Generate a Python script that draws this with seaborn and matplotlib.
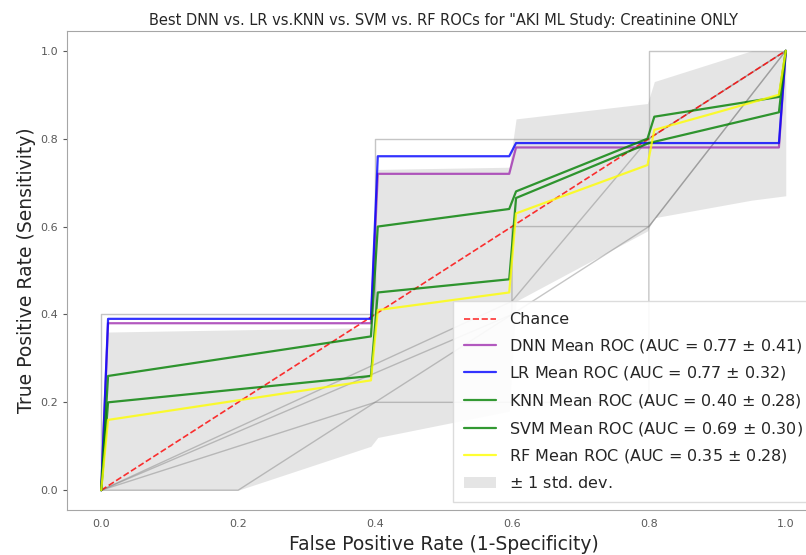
import numpy as np
import matplotlib
matplotlib.use("Agg")
import matplotlib.pyplot as plt
import seaborn as sns

# mean ROC curves (vertices)
dnn_fpr = [0, 0.01, 0.394, 0.404, 0.596, 0.606, 0.99, 1.0]
dnn_tpr = [0, 0.38, 0.38, 0.72, 0.72, 0.78, 0.78, 1.0]

lr_fpr = [0, 0.01, 0.394, 0.404, 0.596, 0.606, 0.99, 1.0]
lr_tpr = [0, 0.39, 0.39, 0.76, 0.76, 0.79, 0.79, 1.0]

knn_fpr = [0, 0.01, 0.394, 0.404, 0.596, 0.606, 0.798, 0.808, 0.99, 1.0]
knn_tpr = [0, 0.26, 0.35, 0.60, 0.64, 0.68, 0.80, 0.85, 0.895, 1.0]

svm_fpr = [0, 0.01, 0.394, 0.404, 0.596, 0.606, 0.8, 0.99, 1.0]
svm_tpr = [0, 0.20, 0.26, 0.45, 0.48, 0.665, 0.79, 0.86, 1.0]

rf_fpr = [0, 0.01, 0.394, 0.404, 0.596, 0.606, 0.798, 0.808, 0.9, 0.99, 1.0]
rf_tpr = [0, 0.16, 0.25, 0.41, 0.45, 0.63, 0.74, 0.82, 0.86, 0.90, 1.0]

# +/- 1 std band
std_fpr = [0, 0.01, 0.2, 0.394, 0.404, 0.596, 0.606, 0.798, 0.808, 0.95, 1.0]
std_upper = [0, 0.36, 0.365, 0.37, 0.73, 0.735, 0.845, 0.88, 0.93, 1.0, 1.0]
std_lower = [0, 0, 0, 0.10, 0.12, 0.18, 0.43, 0.59, 0.62, 0.66, 0.67]

# individual fold curves (thin grey)
folds = [
    ([0, 0, 0.4, 0.4, 0.6, 0.8, 0.8, 1.0], [0, 0.4, 0.4, 0.8, 0.8, 0.8, 1.0, 1.0]),
    ([0, 0.2, 0.8, 1.0], [0, 0, 0.6, 1.0]),
    ([0, 0.6, 0.6, 0.8, 1.0], [0, 0.4, 0.6, 0.6, 1.0]),
    ([0, 0.4, 0.8, 0.8, 1.0], [0, 0.2, 0.2, 0.8, 1.0]),
    ([0, 0.6, 0.8, 1.0], [0, 0.43, 0.8, 1.0]),
]

labels = ["DNN Mean ROC (AUC = 0.77 $\\pm$ 0.41)",
          "LR Mean ROC (AUC = 0.77 $\\pm$ 0.32)",
          "KNN Mean ROC (AUC = 0.40 $\\pm$ 0.28)",
          "SVM Mean ROC (AUC = 0.69 $\\pm$ 0.30)",
          "RF Mean ROC (AUC = 0.35 $\\pm$ 0.28)"]

sns.set_style("white", {"axes.edgecolor": ".65"})
plt.rcParams["font.family"] = ["DejaVu Sans"]
plt.rcParams["mathtext.fontset"] = "dejavusans"

fig = plt.figure(figsize=(8.06, 5.55), dpi=100)
ax = fig.add_axes([67 / 806, 45 / 555, 753 / 806, 479 / 555])

for fx, fy in folds:
    ax.plot(fx, fy, color="grey", lw=1, alpha=0.45)

sns.lineplot(x=[0, 1], y=[0, 1], ax=ax, color="r", lw=1.2, alpha=0.8,
             linestyle="--", label="Chance", sort=False, estimator=None)

curves = [(dnn_fpr, dnn_tpr, "#a030b0"), (lr_fpr, lr_tpr, "b"),
          (knn_fpr, knn_tpr, "g"), (svm_fpr, svm_tpr, "g"),
          (rf_fpr, rf_tpr, "yellow")]
for (fx, fy, c), lab in zip(curves, labels):
    sns.lineplot(x=fx, y=fy, ax=ax, color=c, lw=1.6, alpha=0.8,
                 label=lab, sort=False, estimator=None)

ax.fill_between(std_fpr, std_lower, std_upper, color="grey", alpha=0.2,
                lw=0, label="$\\pm$ 1 std. dev.")

ax.set_xlim(-0.05, 1.05)
ax.set_ylim(-0.045, 1.045)
ax.set_xticks([0, 0.2, 0.4, 0.6, 0.8, 1.0])
ax.set_yticks([0, 0.2, 0.4, 0.6, 0.8, 1.0])
ax.tick_params(labelsize=8, colors=".35", length=3, left=True, bottom=False)
ax.set_xlabel("False Positive Rate (1-Specificity)", fontsize=13.5, labelpad=4)
ax.set_ylabel("True Positive Rate (Sensitivity)", fontsize=13.5, labelpad=3)
ax.set_title("Best DNN vs. LR vs.KNN vs. SVM vs. RF ROCs for \"AKI ML Study: Creatinine ONLY",
             fontsize=10.5, pad=4)

leg = ax.legend(loc="lower left", bbox_to_anchor=(0.5126, 0.0167),
                borderaxespad=0, fontsize=11.5, labelspacing=0.6, borderpad=0.7,
                frameon=True, fancybox=False, edgecolor=".85", framealpha=0.9)

fig.savefig("out.png", dpi=100)
